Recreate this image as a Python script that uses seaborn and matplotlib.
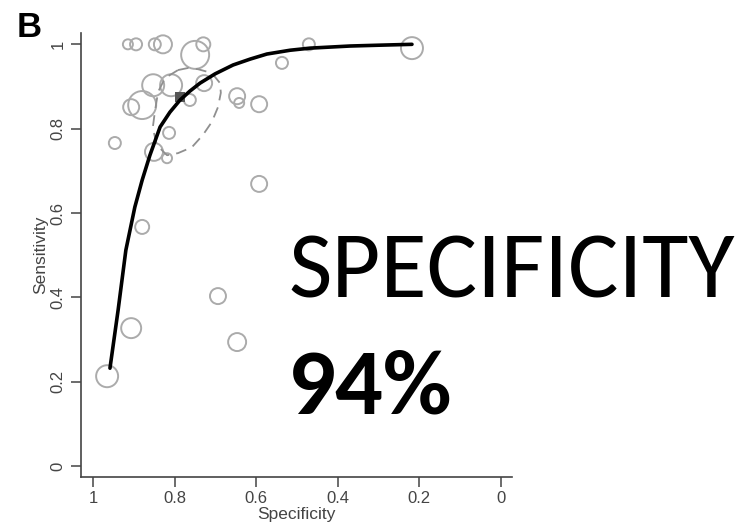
import matplotlib
matplotlib.use("Agg")
import matplotlib.pyplot as plt
import seaborn as sns
import pandas as pd

# study estimates (specificity, sensitivity) and relative study weight
spec = [0.915, 0.895, 0.849, 0.829, 0.750, 0.730, 0.853, 0.809, 0.728, 0.880,
        0.907, 0.763, 0.947, 0.814, 0.851, 0.819, 0.647, 0.642, 0.593, 0.537,
        0.471, 0.218, 0.593, 0.880, 0.907, 0.694, 0.647, 0.966]
sens = [1.000, 1.000, 1.000, 1.000, 0.975, 1.000, 0.903, 0.903, 0.908, 0.856,
        0.851, 0.868, 0.766, 0.790, 0.745, 0.730, 0.877, 0.861, 0.858, 0.956,
        1.000, 0.991, 0.669, 0.567, 0.327, 0.403, 0.294, 0.213]
weight = [25, 36, 36, 81, 196, 49, 121, 121, 64, 196,
          64, 36, 36, 36, 81, 25, 64, 25, 64, 36,
          36, 121, 64, 49, 100, 64, 81, 121]

# SROC curve
sroc_spec = [0.959, 0.939, 0.920, 0.898, 0.880, 0.861, 0.836, 0.812, 0.787, 0.763,
             0.738, 0.701, 0.657, 0.615, 0.574, 0.517, 0.468, 0.370, 0.297, 0.218]
sroc_sens = [0.232, 0.370, 0.512, 0.614, 0.678, 0.737, 0.804, 0.839, 0.868, 0.889,
             0.908, 0.930, 0.951, 0.965, 0.977, 0.986, 0.991, 0.996, 0.998, 1.000]

# 95% confidence region outline
ci_spec = [0.792, 0.767, 0.743, 0.709, 0.689, 0.687, 0.694, 0.709, 0.731, 0.758,
           0.792, 0.819, 0.844, 0.854, 0.849, 0.841, 0.824, 0.792]
ci_sens = [0.939, 0.944, 0.941, 0.932, 0.908, 0.885, 0.851, 0.816, 0.785, 0.756,
           0.742, 0.737, 0.761, 0.802, 0.839, 0.887, 0.920, 0.939]

summary_spec = [0.787]
summary_sens = [0.875]

ticks = [0, 0.2, 0.4, 0.6, 0.8, 1]
tick_labels = ["0", "0.2", "0.4", "0.6", "0.8", "1"]

sns.set_style("ticks")
plt.rcParams["font.family"] = ["Liberation Sans", "DejaVu Sans"]

fig = plt.figure(figsize=(7.38, 5.28), dpi=100)
ax = fig.add_axes([0.1098, 0.0966, 0.584, 0.841])

df = pd.DataFrame({"spec": spec, "sens": sens, "w": weight})
sns.scatterplot(data=df, x="spec", y="sens", size="w", sizes=(52, 406),
                size_norm=(25, 196), legend=False, ax=ax, marker="o", zorder=2)
pts = ax.collections[-1]
pts.set_facecolor("none")
pts.set_edgecolor("#ababab")
pts.set_linewidth(1.4)

sns.scatterplot(x=summary_spec, y=summary_sens, marker="s", s=45,
                color="#555555", edgecolor="none", ax=ax, zorder=3)

sns.lineplot(x=ci_spec, y=ci_sens, sort=False, estimator=None, ax=ax,
             color="#8f8f8f", lw=1.3, dashes=False, zorder=3).lines[-1].set_dashes([6, 4])

sns.lineplot(x=sroc_spec, y=sroc_sens, sort=False, estimator=None, ax=ax,
             color="black", lw=2.6, zorder=4)

ax.set_xlim(1.030, -0.0275)
ax.set_ylim(-0.026, 1.027)
ax.set_xticks(ticks)
ax.set_xticklabels(tick_labels)
ax.set_yticks(ticks)
ax.set_yticklabels(tick_labels, rotation=90, va="center")
ax.tick_params(length=7, width=1.1, color="#444444", labelsize=12,
               labelcolor="#444444")
ax.tick_params(axis="x", pad=3)
ax.tick_params(axis="y", pad=4)
for s in ["left", "bottom"]:
    ax.spines[s].set_color("#444444")
    ax.spines[s].set_linewidth(1.2)
sns.despine(ax=ax)
ax.set_xlabel("Specificity", fontsize=12.5, color="#444444", labelpad=1)
ax.set_ylabel("Sensitivity", fontsize=12.5, color="#444444", labelpad=2)

fig.text(17 / 738, 1 - 37 / 528, "B", fontsize=25, fontweight="bold",
         color="black", ha="left", va="baseline")
big_font = ["Carlito", "Lato", "DejaVu Sans"]
fig.text(288 / 738, 1 - 297 / 528, "SPECIFICITY", fontsize=68, family=big_font,
         color="black", ha="left", va="baseline")
fig.text(288 / 738, 1 - 413 / 528, "94%", fontsize=68, family=big_font,
         fontweight="bold", color="black", ha="left", va="baseline")

fig.savefig("out.png", dpi=100, facecolor="white")
